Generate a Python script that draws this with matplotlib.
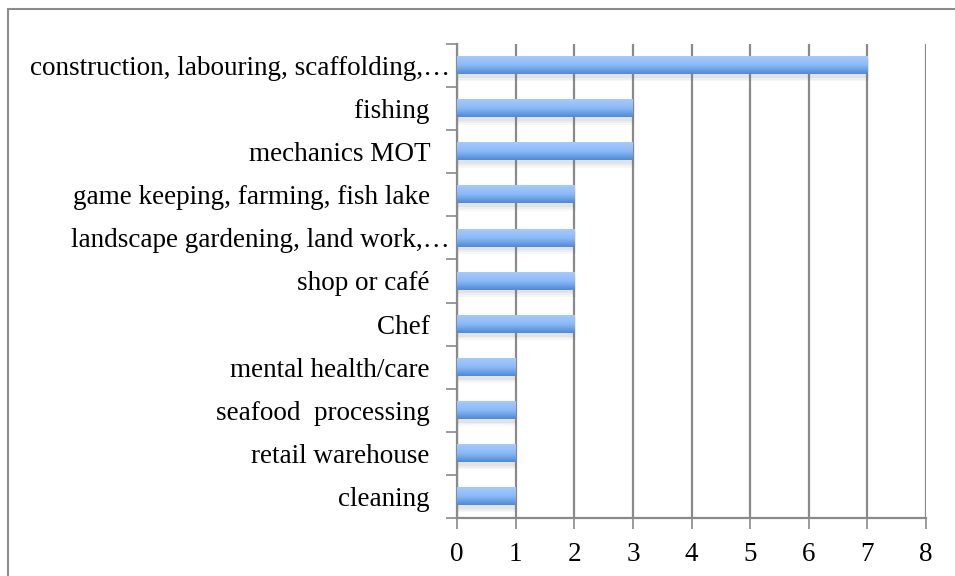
import matplotlib
matplotlib.use("Agg")
import matplotlib.pyplot as plt
import numpy as np
from matplotlib.patches import Rectangle
from matplotlib.colors import LinearSegmentedColormap

categories = [
    "construction, labouring, scaffolding,\u2026",
    "fishing ",
    "mechanics MOT ",
    "game keeping, farming, fish lake ",
    "landscape gardening, land work,\u2026",
    "shop or caf\u00e9 ",
    "Chef ",
    "mental health/care ",
    "seafood  processing ",
    "retail warehouse ",
    "cleaning ",
]
values = [7, 3, 3, 2, 2, 2, 2, 1, 1, 1, 1]
xticks = [0, 1, 2, 3, 4, 5, 6, 7, 8]

W, H = 955, 576
fig = plt.figure(figsize=(W / 100, H / 100), dpi=100)
fig.patch.set_facecolor("white")

# outer frame
fig.add_artist(Rectangle((8 / W, -0.1), 1.2, (576 - 9) / H + 0.1, transform=fig.transFigure,
                         fill=False, edgecolor="#8c8c8c", linewidth=1.5))

ax = fig.add_axes([457 / W, (576 - 518) / H, (926 - 457) / W, (518 - 44) / H])
n = len(categories)
ypos = np.arange(n)

grey = "#8a8a8a"
for x in xticks:
    ax.axvline(x, color=grey, linewidth=1.6, zorder=1)

cmap = LinearSegmentedColormap.from_list("bar", ["#a5cafd", "#8bbaf6", "#4d8ad9"])
grad = np.linspace(0, 1, 64).reshape(-1, 1)
bh = 0.4
bars = ax.barh(ypos, values, height=bh, color="none", zorder=3)
for b in bars:
    x0, y0, w, h = b.get_x(), b.get_y(), b.get_width(), b.get_height()
    # soft shadow
    for k, a in [(0.12, 0.05), (0.08, 0.06), (0.04, 0.08)]:
        ax.add_patch(Rectangle((x0, y0 + 0.05), w + k * 0.25, h + k, facecolor="#666666",
                               edgecolor="none", alpha=a, zorder=2))
    ax.imshow(grad, cmap=cmap, aspect="auto", extent=(x0, x0 + w, y0 + h, y0),
              zorder=3, interpolation="bicubic")
ax.set_xlim(0, 8)
ax.set_ylim(n - 0.5, -0.5)

font = ["Liberation Serif", "DejaVu Serif"]
fs = 19.5
ax.set_xticks(xticks)
ax.set_xticklabels([str(t) for t in xticks], fontsize=fs, family=font)
ax.set_yticks(np.arange(-0.5, n, 1), minor=False)
ax.set_yticklabels([])
ax.set_yticks(ypos, minor=True)
shown = [c + "  " if c.endswith(" ") else c for c in categories]
ax.set_yticklabels(shown, minor=True, fontsize=fs, family=font)
ax.tick_params(axis="y", which="minor", length=0, pad=5)
ax.tick_params(axis="y", which="major", length=8, width=1.2, color=grey, direction="out")
ax.tick_params(axis="x", length=8, width=1.2, color=grey, direction="out", pad=9)

for s in ["top", "right"]:
    ax.spines[s].set_visible(False)
ax.spines["left"].set_color(grey)
ax.spines["left"].set_linewidth(1.6)
ax.spines["bottom"].set_color(grey)
ax.spines["bottom"].set_linewidth(1.6)

fig.savefig("out.png", dpi=100)
